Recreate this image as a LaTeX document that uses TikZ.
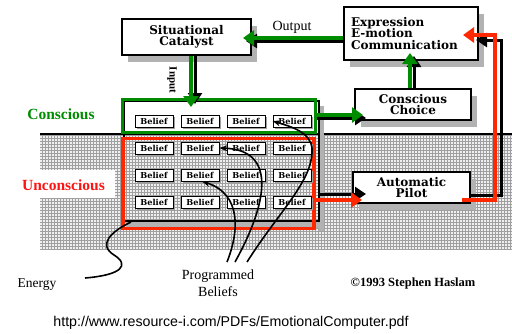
\documentclass[tikz,border=0pt]{standalone}
\usepackage{fontspec}
\setmainfont{Liberation Serif}
\setsansfont{Liberation Sans}
\newfontfamily\boxfont{DejaVu Serif}
\usetikzlibrary{arrows.meta,shadows,patterns}
\definecolor{cgreen}{RGB}{0,140,0}
\definecolor{cred}{RGB}{255,40,0}
\definecolor{lred}{RGB}{255,20,20}
\tikzset{
  bigbox/.style={draw, fill=white, line width=1.6pt, inner sep=0pt,
    font=\boxfont\bfseries\fontsize{12}{12.5}\selectfont, align=center,
    drop shadow={shadow xshift=6pt, shadow yshift=-7pt, fill=gray!60, opacity=1}},
  belief/.style={draw, fill=white, line width=0.8pt, inner sep=0pt,
    minimum width=38pt, minimum height=12pt,
    font=\boxfont\bfseries\fontsize{8.2}{8}\selectfont,
    drop shadow={shadow xshift=2pt, shadow yshift=-2pt, fill=gray!75, opacity=1}},
  garrow/.style={cgreen, line width=4pt, -{Triangle[length=11pt,width=15pt]}},
  rarrow/.style={cred, line width=4pt, -{Triangle[length=11pt,width=15pt]}},
  sarrow/.style={black, line width=3pt, -{Triangle[length=11pt,width=14pt]}},
  curve/.style={black, line width=1.6pt},
  carrow/.style={black, line width=1.6pt, -{Stealth[length=8pt,width=6pt]}}
}
\begin{document}
\begin{tikzpicture}[x=1pt,y=-1pt]
\useasboundingbox (0,0) rectangle (512,333);
% unconscious ground
\fill[gray!12] (40,135) rectangle (512,249);
\fill[pattern=grid, pattern color=gray!75] (40,135) rectangle (512,249);
\fill[white] (38,170) rectangle (115,198);
\draw[line width=2pt] (40,134) -- (512,134);
% frame and its shadow
\fill[gray!60] (319,106) rectangle (324,231);
\fill[gray!60] (126,221) rectangle (324,228);
\draw[line width=1.2pt] (124,101) rectangle (319,221);
% conscious and unconscious boxes
\node[draw=cgreen, line width=3pt, minimum width=193pt, minimum height=33pt, inner sep=0pt] (cbox) at (218.75,116.25) {};
\node[draw=cred, line width=3.5pt, minimum width=191pt, minimum height=90pt, inner sep=0pt] (ubox) at (218.5,183.5) {};
% beliefs
\foreach \r/\y in {1/121,2/148,3/175,4/202}
  \foreach \c/\x in {1/154,2/200,3/246,4/292}
    \node[belief] (b\r\c) at (\x,\y) {Belief};
% curves
\coordinate (eend) at (85,278);
\coordinate (ustart) at (131,222);
\draw[curve] (ustart) .. controls (110,232) and (98,245) .. (114,255) .. controls (130,265) and (122,275) .. (eend);
\coordinate (pa) at (227,262);
\coordinate (pb) at (235,262);
\coordinate (pc) at (247,262);
\draw[carrow] (pa) .. controls (239,232) and (242,194) .. ([xshift=2pt]b32.south);
\draw[carrow] (pb) .. controls (265,208) and (280,150) .. (b22.east);
\draw[carrow] (pc) .. controls (280,210) and (314,180) .. (312,148) .. controls (310,132) and (292,127) .. (b14.west);
% main boxes
\node[bigbox, minimum width=129pt, minimum height=36pt] (sit) at (186.5,37) {Situational\\[-1pt]Catalyst};
\node[bigbox, minimum width=134pt, minimum height=53pt, align=left, text width=120pt] (expr) at (411,33.5) {Expression\\[-1pt]E-motion\\[-1pt]Communication};
\node[bigbox, minimum width=116pt, minimum height=31pt] (choice) at (413,104.5) {Conscious\\[-1pt]Choice};
\node[bigbox, minimum width=117pt, minimum height=31pt] (pilot) at (411.5,187.5) {Automatic\\[-1.5pt]Pilot};
% arrows: shadows first
\draw[sarrow] (expr.west |- 0,41) -- (246,41);
\draw[garrow] (expr.west |- 0,38) -- (243,38);
\draw[sarrow] (sit.south -| 195,0) -- (195,104);
\draw[garrow] (sit.south -| 191,0) -- (191,107);
\draw[sarrow] (cbox.east |- 0,118) -- (366,118);
\draw[garrow] (cbox.east |- 0,115) -- (363,115);
\draw[sarrow] (choice.north -| 414,0) -- (414,56);
\draw[garrow] (choice.north -| 410,0) -- (410,53);
\draw[sarrow] (319,194) -- (366,194);
\draw[rarrow] (ubox.east |- 0,200) -- (362,200);
\draw[line width=3pt] (pilot.east |- 0,195) -- (501,195) -- (501,40) -- (478,40);
\draw[sarrow] (501,40) -- (476,40);
\draw[rarrow] (462,200) -- (495,200) -- (495,35) -- (463,35);
% labels
\node[font=\bfseries\fontsize{15.5}{16}\selectfont, text=cgreen] (lc) at (61,114) {Conscious};
\node[font=\bfseries\fontsize{15.5}{16}\selectfont, text=lred] (lu) at (63.5,185) {Unconscious};
\node[font=\fontsize{14}{14}\selectfont] (out) at (292,27) {Output};
\node[font=\bfseries\fontsize{11}{11}\selectfont, rotate=-90] (inp) at (172,80) {Input};
\node[font=\fontsize{13.5}{14}\selectfont] (en) at (37,285) {Energy};
\node[font=\fontsize{14}{17}\selectfont, align=center] (pbl) at (218,283.5) {Programmed\\Beliefs};
\node[font=\bfseries\fontsize{12.5}{13}\selectfont] (cr) at (413,283) {©1993 Stephen Haslam};
\node[font=\sffamily\fontsize{14.2}{15}\selectfont] (url) at (231,323) {http://www.resource-i.com/PDFs/EmotionalComputer.pdf};
\end{tikzpicture}
\end{document}
